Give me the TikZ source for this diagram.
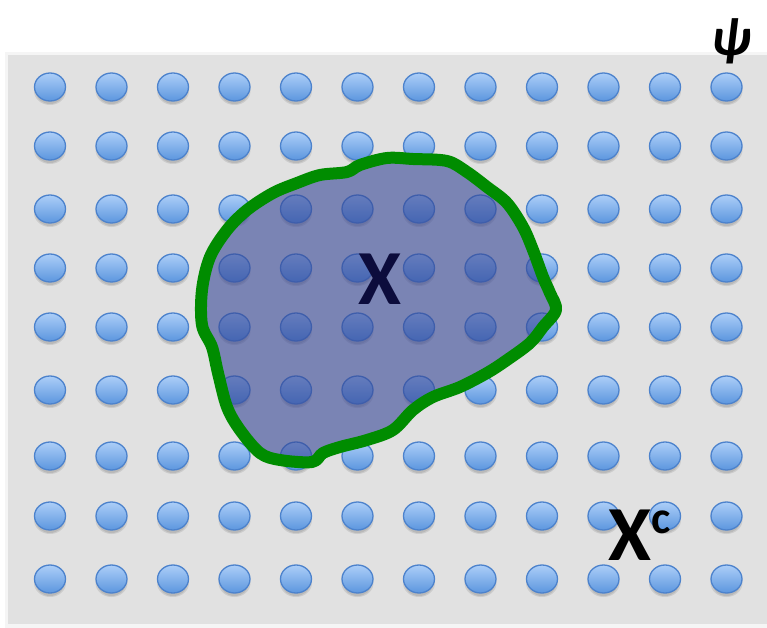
\documentclass[tikz,border=0pt]{standalone}
\usepackage{fontspec}
\setmainfont{Carlito}
\usepackage{xcolor}
\usepackage{tikz}

\definecolor{panelgrey}{RGB}{225,225,225}
\definecolor{dottop}{RGB}{172,206,248}
\definecolor{dotbot}{RGB}{92,150,222}
\definecolor{dotedge}{RGB}{76,130,204}
\definecolor{blobfill}{RGB}{54,70,150}
\definecolor{blobline}{RGB}{0,140,0}
\definecolor{xnavy}{RGB}{12,12,60}

\tikzset{
  dot/.style={top color=dottop, bottom color=dotbot, draw=dotedge, line width=1.3},
  dotshadow/.style={fill=black, opacity=0.09},
  bigletter/.style={font=\fontsize{78}{78}\selectfont\bfseries, inner sep=0pt}
}

\begin{document}
\begin{tikzpicture}[x=1pt, y=-1pt]
    \useasboundingbox (0,0) rectangle (767,628);
    % grey panel
    \fill[black, opacity=0.04] (5,52) rectangle (767,628);
    \fill[panelgrey] (8,55) rectangle (767,624);
    % grid of dots
    \foreach \y in {87,146,209,268,327,390,456,516,579} {
        \foreach \i in {0,...,11} {
            \fill[dotshadow] (50+61.5*\i, \y+4) ellipse (16 and 14);
            \fill[dotshadow] (50+61.5*\i, \y+5) ellipse (14 and 12);
            \shade[dot] (50+61.5*\i, \y) ellipse (15.5 and 14);
        }
    }
    % the set X
    \draw[draw=blobline, line width=12, fill=blobfill, fill opacity=0.6, line join=round]
        plot[smooth cycle, tension=0.55] coordinates {
        (312,462) (280,460) (260,453) (240,430) (227,407) (218,373) (212,347)
        (202,325) (202,290) (210,257) (227,230) (247,210) (273,193) (297,183)
        (320,175) (347,172) (360,165) (387,158) (413,159) (447,161) (467,172)
        (487,187) (507,203) (523,227) (533,250) (543,277) (550,293) (556,310)
        (543,327) (530,343) (507,360) (487,373) (460,387) (433,397) (413,410)
        (393,430) (367,440) (340,447) (323,453)};
    % labels
    \node[bigletter, text=xnavy] (setx) at (380,279) {X};
    \node[bigletter, anchor=base west] (setxc) at (608,560)
        {X\raisebox{27pt}{\fontsize{46}{46}\selectfont c}};
    \node[font=\fontsize{54}{54}\selectfont\bfseries\itshape, inner sep=0pt] (psi) at (731,41) {ψ};
\end{tikzpicture}
\end{document}
